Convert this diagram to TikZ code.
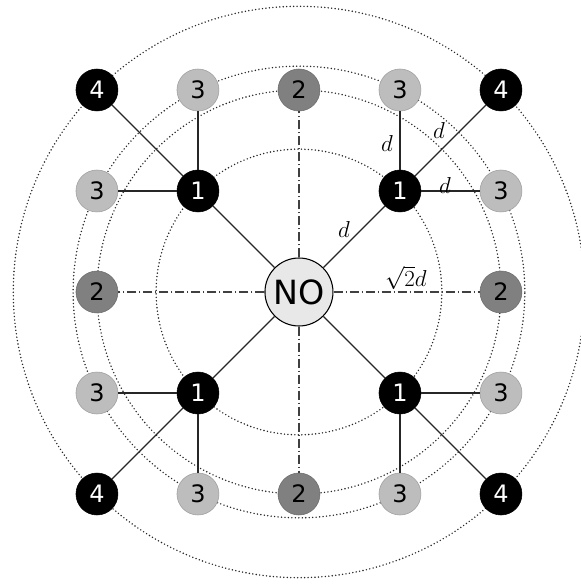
\documentclass[tikz,border=0pt]{standalone}
\usepackage{fontspec}
\setsansfont{DejaVu Sans}
\begin{document}
\begin{tikzpicture}[x=75.75pt,y=75.75pt,
  ring/.style={line width=1.2pt, line cap=round, dash pattern=on 0pt off 2.6pt, black!85},
  nbase/.style={circle, minimum size=31.5pt, inner sep=0pt, font=\sffamily\fontsize{18}{18}\selectfont},
  none/.style={nbase, fill=black, draw=black, text=white},
  ntwo/.style={nbase, fill=black!50, draw=black!58, text=black},
  nthree/.style={nbase, fill=black!26, draw=black!38, text=black},
  nzero/.style={circle, minimum size=51pt, inner sep=0pt, fill=black!9, draw=black, line width=0.8pt, font=\sffamily\fontsize{25}{25}\selectfont},
  link/.style={line width=0.9pt, black!85},
  dlink/.style={line width=0.8pt, black!75, dash pattern=on 7pt off 2pt on 1pt off 2pt},
  lab/.style={font=\fontsize{18}{20}\selectfont, inner sep=0pt}
]
\useasboundingbox (-2.960,-2.891) rectangle (2.792,2.891);
\fill[white] (-2.960,-2.891) rectangle (2.792,2.891);
% rings
\draw[ring] (0,0) circle[radius=1.4142];
\draw[ring] (0,0) circle[radius=2];
\draw[ring] (0,0) circle[radius=2.2361];
\draw[ring] (0,0) circle[radius=2.8284];
% nodes
\node[nzero] (c) at (0,0) {NO};
\node[none] (ne) at (1,1) {1};
\node[none] (nw) at (-1,1) {1};
\node[none] (sw) at (-1,-1) {1};
\node[none] (se) at (1,-1) {1};
\node[ntwo] (tn) at (0,2) {2};
\node[ntwo] (ts) at (0,-2) {2};
\node[ntwo] (tw) at (-2,0) {2};
\node[ntwo] (te) at (2,0) {2};
\node[nthree] (h1) at (1,2) {3};
\node[nthree] (h2) at (2,1) {3};
\node[nthree] (h3) at (-1,2) {3};
\node[nthree] (h4) at (-2,1) {3};
\node[nthree] (h5) at (-2,-1) {3};
\node[nthree] (h6) at (-1,-2) {3};
\node[nthree] (h7) at (1,-2) {3};
\node[nthree] (h8) at (2,-1) {3};
\node[none] (f1) at (2,2) {4};
\node[none] (f2) at (-2,2) {4};
\node[none] (f3) at (-2,-2) {4};
\node[none] (f4) at (2,-2) {4};
% links
\draw[link] (c) -- (ne);
\draw[link] (c) -- (nw);
\draw[link] (c) -- (sw);
\draw[link] (c) -- (se);
\draw[dlink] (c) -- (tn);
\draw[dlink] (c) -- (ts);
\draw[dlink] (c) -- (tw);
\draw[dlink] (c) -- (te);
\draw[link] (ne) -- (h1);
\draw[link] (ne) -- (h2);
\draw[link] (nw) -- (h3);
\draw[link] (nw) -- (h4);
\draw[link] (sw) -- (h5);
\draw[link] (sw) -- (h6);
\draw[link] (se) -- (h7);
\draw[link] (se) -- (h8);
\draw[link] (ne) -- (f1);
\draw[link] (nw) -- (f2);
\draw[link] (sw) -- (f3);
\draw[link] (se) -- (f4);
% labels
\node[lab] (l1) at (0.446,0.614) {$d$};
\node[lab] (l2) at (0.871,1.475) {$d$};
\node[lab] (l3) at (1.386,1.594) {$d$};
\node[lab] (l4) at (1.446,1.059) {$d$};
\node[lab] (l5) at (1.059,0.14) {$\sqrt{2}d$};
\end{tikzpicture}
\end{document}
